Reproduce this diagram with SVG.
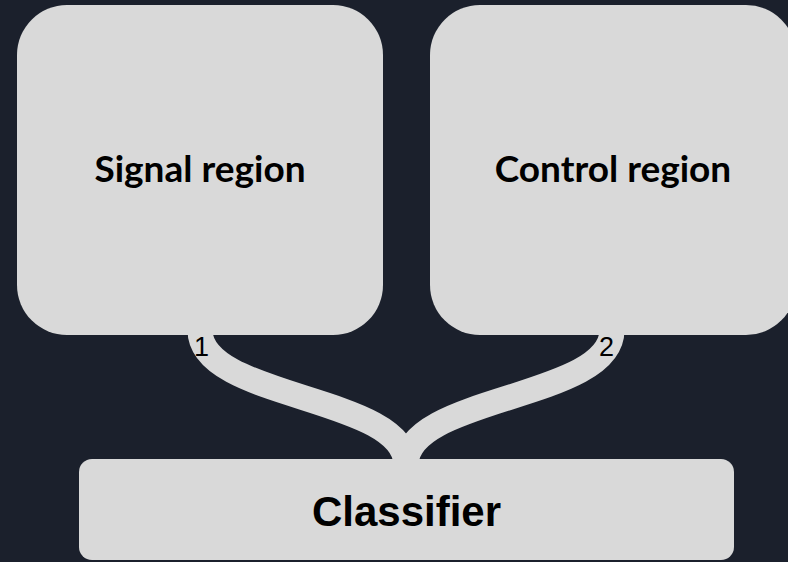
<svg xmlns="http://www.w3.org/2000/svg" width="788" height="562" viewBox="0 0 788 562">
<style>
.node{fill:#d9d9d9}
.title{font-family:Lato,"Liberation Sans",sans-serif;font-weight:bold;font-size:37px;fill:#000;text-anchor:middle}
.ctitle{font-family:"Liberation Sans",Arial,sans-serif;font-weight:bold;font-size:42px;fill:#000;text-anchor:middle}
.edge{fill:none;stroke:#d9d9d9;stroke-width:25}
.lbl{font-family:"Liberation Sans",Arial,sans-serif;font-size:27px;fill:#000}
</style>
<rect width="788" height="562" fill="#1b202c"/>
<g id="connectors">
<path class="edge" d="M200,330 C200,400 406,395 406,465"/>
<path class="edge" d="M612,330 C612,400 406,395 406,465"/>
<text class="lbl" x="194" y="356">1</text>
<text class="lbl" x="599" y="356">2</text>
</g>
<g id="signal">
<rect class="node" x="17" y="5" width="366" height="330" rx="50"/>
<text class="title" x="200" y="182">Signal region</text>
</g>
<g id="control">
<rect class="node" x="430" y="5" width="366" height="330" rx="50"/>
<text class="title" x="613" y="182">Control region</text>
</g>
<g id="classifier">
<rect class="node" x="79" y="459" width="655" height="101" rx="13"/>
<text class="ctitle" x="406.5" y="526">Classifier</text>
</g>
</svg>
